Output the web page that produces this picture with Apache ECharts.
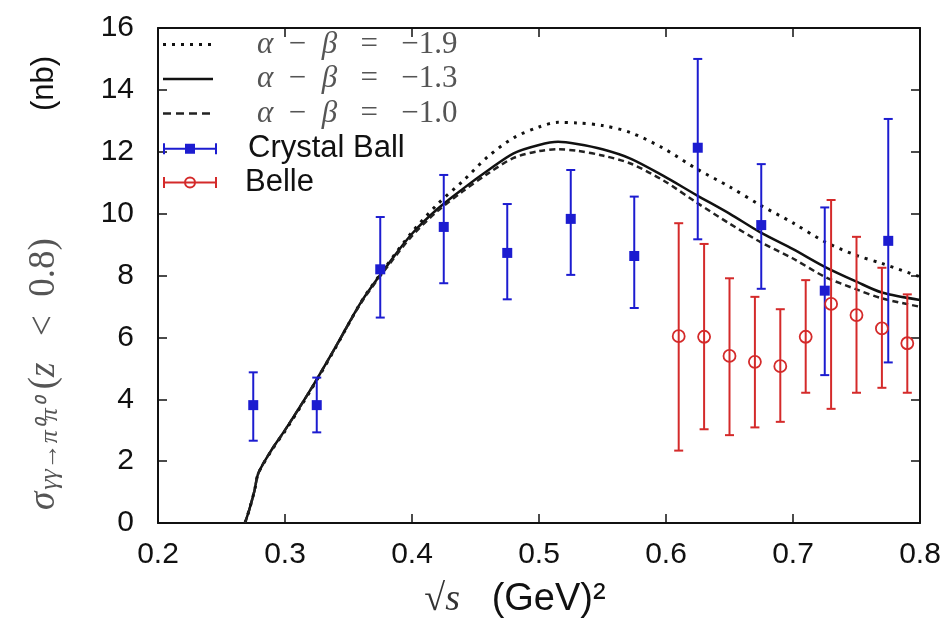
<!DOCTYPE html>
<html>
<head>
<meta charset="utf-8">
<script src="https://cdn.jsdelivr.net/npm/echarts@6/dist/echarts.min.js"></script>
<style>
  html, body { margin: 0; padding: 0; background: #fff; }
  #chart { width: 950px; height: 630px; }
</style>
</head>
<body>
<div id="chart"></div>
<script>
// sqrt(s) samples shared by the three model curves
const curveX = [0.2685, 0.272, 0.276, 0.279, 0.29, 0.30, 0.32, 0.34, 0.36, 0.38, 0.40, 0.42, 0.44, 0.46, 0.48, 0.50, 0.515, 0.53, 0.55, 0.572, 0.598, 0.624, 0.65, 0.674, 0.70, 0.725, 0.75, 0.77, 0.80];
const curveDotted = [0, 0.45, 1.05, 1.6, 2.38, 2.97, 4.27, 5.68, 7.15, 8.32, 9.4, 10.3, 11.05, 11.85, 12.45, 12.8, 12.95, 12.93, 12.85, 12.62, 12.11, 11.45, 10.87, 10.28, 9.7, 9.09, 8.65, 8.39, 7.96];
const curveSolid = [0, 0.45, 1.05, 1.61, 2.4, 3.0, 4.3, 5.7, 7.15, 8.3, 9.35, 10.15, 10.8, 11.4, 11.95, 12.22, 12.32, 12.25, 12.08, 11.78, 11.22, 10.6, 10.0, 9.4, 8.85, 8.28, 7.8, 7.45, 7.21];
const curveDashed = [0, 0.45, 1.05, 1.61, 2.4, 3.0, 4.3, 5.7, 7.12, 8.25, 9.28, 10.08, 10.72, 11.3, 11.8, 12.02, 12.08, 12.03, 11.88, 11.62, 11.07, 10.36, 9.68, 9.09, 8.55, 7.96, 7.55, 7.26, 6.99];

// Crystal Ball data
const cbX = [0.275, 0.325, 0.375, 0.425, 0.475, 0.525, 0.575, 0.625, 0.675, 0.725, 0.775];
const cbY = [3.81, 3.81, 8.2, 9.57, 8.73, 9.83, 8.63, 12.13, 9.63, 7.51, 9.12];
const cbLo = [2.66, 2.93, 6.64, 7.75, 7.23, 8.02, 6.95, 9.17, 7.57, 4.78, 5.19];
const cbHi = [4.87, 4.7, 9.89, 11.25, 10.31, 11.41, 10.55, 15.0, 11.6, 10.2, 13.06];

// Belle data
const belleX = [0.61, 0.63, 0.65, 0.67, 0.69, 0.71, 0.73, 0.75, 0.77, 0.79];
const belleY = [6.04, 6.02, 5.4, 5.21, 5.07, 6.02, 7.08, 6.72, 6.29, 5.81];
const belleLo = [2.34, 3.03, 2.84, 3.09, 3.27, 4.21, 3.69, 4.21, 4.37, 4.21];
const belleHi = [9.69, 9.02, 7.91, 7.31, 6.91, 7.85, 10.44, 9.25, 8.25, 7.39];

const names = ['α − β = −1.9', 'α − β = −1.3', 'α − β = −1.0', 'Crystal Ball', 'Belle'];

const chart = echarts.init(document.getElementById('chart'));

const zip = (xs, ys) => xs.map((x, i) => [x, ys[i]]);
const bars = (xs, ys, lo, hi) => xs.map((x, i) => [x, ys[i], lo[i], hi[i]]);

function errorBars(marker) {
  return function (params, api) {
    const p = api.coord([api.value(0), api.value(1)]);
    const lo = api.coord([api.value(0), api.value(2)]);
    const hi = api.coord([api.value(0), api.value(3)]);
    const color = api.visual('color');
    const ls = { stroke: color, lineWidth: 2 };
    const cw = 4.5;
    const children = [
      { type: 'line', shape: { x1: lo[0], y1: lo[1], x2: hi[0], y2: hi[1] }, style: ls },
      { type: 'line', shape: { x1: hi[0] - cw, y1: hi[1], x2: hi[0] + cw, y2: hi[1] }, style: ls },
      { type: 'line', shape: { x1: lo[0] - cw, y1: lo[1], x2: lo[0] + cw, y2: lo[1] }, style: ls }
    ];
    if (marker === 'square') {
      children.push({ type: 'rect', shape: { x: p[0] - 5, y: p[1] - 5, width: 10, height: 10 }, style: { fill: color } });
    } else {
      children.push({ type: 'circle', shape: { cx: p[0], cy: p[1], r: 6 }, style: { fill: 'none', stroke: color, lineWidth: 1.8 } });
    }
    return { type: 'group', children: children };
  };
}

// legend icons (54 x 14 boxes)
const box = 'M0 0 Z M54 14 Z ';
const dotIcon = 'path://' + box + [0, 9, 18, 27, 36, 45].map(x => `M${x} 5.5 L${x + 3} 5.5 L${x + 3} 8.5 L${x} 8.5 Z`).join(' ');
const solidIcon = 'path://' + box + 'M0 5.8 L50 5.8 L50 8.2 L0 8.2 Z';
const dashIcon = 'path://' + box + [0, 13, 26, 39].map(x => `M${x} 5.8 L${x + 8} 5.8 L${x + 8} 8.2 L${x} 8.2 Z`).join(' ');
const barBase = 'M0 6 L54 6 L54 8 L0 8 Z M0 1.5 L2 1.5 L2 12.5 L0 12.5 Z M52 1.5 L54 1.5 L54 12.5 L52 12.5 Z ';
const cbIcon = 'path://M0 0 Z ' + barBase + 'M22 2 L32 2 L32 12 L22 12 Z';
const belleIcon = 'path://M0 0 Z M54 14 Z ' + barBase + 'M21 7 A6 6 0 1 1 33 7 A6 6 0 1 1 21 7 Z M23 7 A4 4 0 1 0 31 7 A4 4 0 1 0 23 7 Z';

const axisLine = { show: true, onZero: false, lineStyle: { color: '#111', width: 2 } };
const axisTick = { show: true, inside: true, length: 9, lineStyle: { color: '#111', width: 1.5 } };
const labelFont = { fontFamily: 'Liberation Sans', fontSize: 30, color: '#111' };
const serif = { fontFamily: 'Liberation Serif', color: '#555' };

const option = {
  animation: false,
  backgroundColor: '#fff',
  grid: { left: 158, right: 30, top: 28, bottom: 107 },
  legend: {
    orient: 'vertical',
    left: 163,
    top: 29,
    padding: 0,
    itemGap: 3.5,
    itemWidth: 54,
    itemHeight: 14,
    selectedMode: false,
    data: [
      { name: names[0], icon: dotIcon },
      { name: names[1], icon: solidIcon },
      { name: names[2], icon: dashIcon },
      { name: names[3], icon: cbIcon },
      { name: names[4], icon: belleIcon }
    ],
    formatter: function (name) {
      if (name === 'Crystal Ball') return '{cb|' + name + '}';
      if (name === 'Belle') return '{be|' + name + '}';
      const v = name.split('=')[1].trim();
      return '{a|α}{u|  −  }{i|β}{u|   =   ' + v + '}';
    },
    textStyle: {
      rich: {
        a: Object.assign({ fontStyle: 'italic', fontSize: 31, lineHeight: 34, padding: [0, 0, 0, 35] }, serif),
        i: Object.assign({ fontStyle: 'italic', fontSize: 31, lineHeight: 34 }, serif),
        u: Object.assign({ fontSize: 31, lineHeight: 34 }, serif),
        cb: { fontFamily: 'Liberation Sans', fontSize: 31, color: '#111', lineHeight: 34, padding: [0, 0, 0, 26] },
        be: { fontFamily: 'Liberation Sans', fontSize: 31, color: '#111', lineHeight: 34, padding: [0, 0, 0, 23] }
      }
    }
  },
  xAxis: [
    {
      type: 'value', min: 0.2, max: 0.8, interval: 0.1, position: 'bottom',
      axisLine: axisLine, axisTick: axisTick, splitLine: { show: false },
      axisLabel: Object.assign({ margin: 17, formatter: v => v.toFixed(1) }, labelFont),
      name: '{m|√s}{t|   (GeV)²}',
      nameLocation: 'middle',
      nameGap: 58,
      nameTextStyle: {
        rich: {
          m: { fontFamily: 'Liberation Serif', fontStyle: 'italic', fontSize: 38, color: '#333' },
          t: { fontFamily: 'Liberation Sans', fontSize: 38, color: '#111', padding: [0, 48, 0, 0] }
        }
      }
    },
    {
      type: 'value', min: 0.2, max: 0.8, interval: 0.1, position: 'top',
      axisLine: axisLine, axisTick: axisTick, splitLine: { show: false }, axisLabel: { show: false }
    }
  ],
  yAxis: [
    {
      type: 'value', min: 0, max: 16, interval: 2, position: 'left',
      axisLine: axisLine, axisTick: axisTick, splitLine: { show: false },
      axisLabel: Object.assign({ margin: 24 }, labelFont),
      name: '{s|σ}{sub|γγ→π⁰π⁰}{p|(}{s|z}{q|  <  0.8)}{nb|(nb)}',
      nameLocation: 'middle',
      nameRotate: 90,
      nameGap: 95,
      nameTextStyle: {
        rich: {
          s: Object.assign({ fontStyle: 'italic', fontSize: 37, lineHeight: 38 }, serif),
          p: Object.assign({ fontSize: 37, lineHeight: 38 }, serif),
          q: Object.assign({ fontSize: 37, lineHeight: 38, padding: [0, 0, 0, 8] }, serif),
          sub: Object.assign({ fontStyle: 'italic', fontSize: 26, lineHeight: 26, verticalAlign: 'bottom', padding: [0, 10, 0, 2] }, serif),
          nb: { fontFamily: 'Liberation Sans', fontSize: 31, color: '#111', lineHeight: 38, padding: [0, 15, 0, 127] }
        }
      }
    },
    {
      type: 'value', min: 0, max: 16, interval: 2, position: 'right',
      axisLine: axisLine, axisTick: axisTick, splitLine: { show: false }, axisLabel: { show: false }
    }
  ],
  series: [
    {
      name: names[0], type: 'line', data: zip(curveX, curveDotted), symbol: 'none', smooth: 0.3,
      lineStyle: { color: '#111', width: 3, type: [3, 6] }, itemStyle: { color: '#111' }, z: 2
    },
    {
      name: names[1], type: 'line', data: zip(curveX, curveSolid), symbol: 'none', smooth: 0.3,
      lineStyle: { color: '#111', width: 2.5, type: 'solid' }, itemStyle: { color: '#111' }, z: 2
    },
    {
      name: names[2], type: 'line', data: zip(curveX, curveDashed), symbol: 'none', smooth: 0.3,
      lineStyle: { color: '#222', width: 2.5, type: [6, 4] }, itemStyle: { color: '#222' }, z: 2
    },
    {
      name: names[3], type: 'custom', renderItem: errorBars('square'),
      data: bars(cbX, cbY, cbLo, cbHi), itemStyle: { color: '#1c1cd0' }, encode: { x: 0, y: 1 }, z: 3
    },
    {
      name: names[4], type: 'custom', renderItem: errorBars('circle'),
      data: bars(belleX, belleY, belleLo, belleHi), itemStyle: { color: '#d42a2a' }, encode: { x: 0, y: 1 }, z: 4
    }
  ]
};

chart.setOption(option);
</script>
</body>
</html>
